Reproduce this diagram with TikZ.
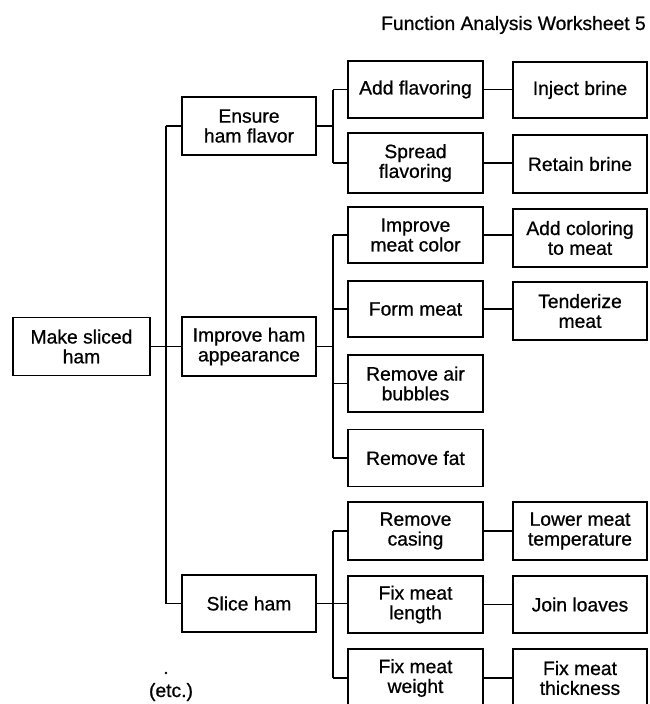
\documentclass[tikz,border=0pt]{standalone}
\usepackage{fontspec}
\setmainfont[FakeBold=0.7]{Liberation Sans}
\begin{document}
\begin{tikzpicture}[x=1pt,y=-1pt,
  box/.style={draw, line width=1.1pt, align=center, inner sep=0pt,
    minimum width=135pt, minimum height=57pt,
    font=\fontsize{19.3}{19.8}\selectfont},
  ln/.style={line width=1.1pt},
  lbl/.style={inner sep=0pt, font=\fontsize{19.3}{19.8}\selectfont}]
\useasboundingbox (0,0) rectangle (649,704);
% title
\node[lbl, anchor=east] (title) at (646,25) {Function Analysis Worksheet 5};
% column A
\node[box, minimum width=137pt, minimum height=58pt] (a) at (81.5,346.5) {Make sliced\\ham};
% column B
\node[box, minimum width=134pt, minimum height=58pt] (b1) at (249,126) {Ensure\\ham flavor};
\node[box, minimum width=134pt, minimum height=59pt] (b2) at (249,346.5) {Improve ham\\appearance};
\node[box, minimum width=134pt, minimum height=57pt] (b3) at (249,603.5) {Slice ham};
% column C
\node[box, minimum height=57pt] (c1) at (415.5,89.5) {Add flavoring};
\node[box, minimum height=60pt] (c2) at (415.5,163) {Spread\\flavoring};
\node[box, minimum height=56pt] (c3) at (415.5,235) {Improve\\meat color};
\node[box, minimum height=56pt] (c4) at (415.5,309) {Form meat};
\node[box, minimum height=57pt] (c5) at (415.5,383.5) {Remove air\\bubbles};
\node[box, minimum height=57pt] (c6) at (415.5,458) {Remove fat};
\node[box, minimum height=58pt] (c7) at (415.5,531) {Remove\\casing};
\node[box, minimum height=57pt] (c8) at (415.5,604.5) {Fix meat\\length};
\node[box, minimum height=58pt] (c9) at (415.5,678) {Fix meat\\weight};
% column D
\node[box, minimum width=134pt, minimum height=56pt] (d1) at (580,90) {Inject brine};
\node[box, minimum width=134pt, minimum height=58pt] (d2) at (580,164) {Retain brine};
\node[box, minimum width=134pt, minimum height=58pt] (d3) at (580,238) {Add coloring\\to meat};
\node[box, minimum width=134pt, minimum height=58pt] (d4) at (580,311) {Tenderize\\meat};
\node[box, minimum width=134pt, minimum height=58pt] (d7) at (580,531) {Lower meat\\temperature};
\node[box, minimum width=134pt, minimum height=57pt] (d8) at (580,604.5) {Join loaves};
\node[box, minimum width=134pt, minimum height=58pt] (d9) at (580,678) {Fix meat\\thickness};
% etc
\node[lbl] (etc) at (171,692) {(etc.)};
\coordinate (busAtop) at (166,126);
\coordinate (busAbot) at (166,603.5);
\fill (166,673) circle (1.3pt);
% level A -> B
\draw[ln] (a.east) -- (b2.west);
\draw[ln] (busAtop) -- (busAbot);
\draw[ln] (busAtop) -- (b1.west);
\draw[ln] (busAbot) -- (b3.west);
% B -> C
\coordinate (k1) at (333,126);
\draw[ln] (b1.east) -- (k1);
\draw[ln] (c1.west -| k1) -- (c2.west -| k1);
\draw[ln] (c1.west -| k1) -- (c1.west);
\draw[ln] (c2.west -| k1) -- (c2.west);
\coordinate (k2) at (333,346.5);
\draw[ln] (b2.east) -- (k2);
\draw[ln] (c3.west -| k2) -- (c6.west -| k2);
\foreach \n in {c3,c4,c5,c6} \draw[ln] (\n.west -| k2) -- (\n.west);
\coordinate (k3) at (333,604);
\draw[ln] (b3.east) -- (b3.east -| c8.west);
\draw[ln] (c7.west -| k3) -- (c9.west -| k3);
\draw[ln] (c7.west -| k3) -- (c7.west);
\draw[ln] (c9.west -| k3) -- (c9.west);
% C -> D
\foreach \c/\d in {c1/d1,c2/d2,c3/d3,c4/d4,c7/d7,c8/d8,c9/d9}
  \draw[ln] (\c.east) -- (\c.east -| \d.west);
\end{tikzpicture}
\end{document}
